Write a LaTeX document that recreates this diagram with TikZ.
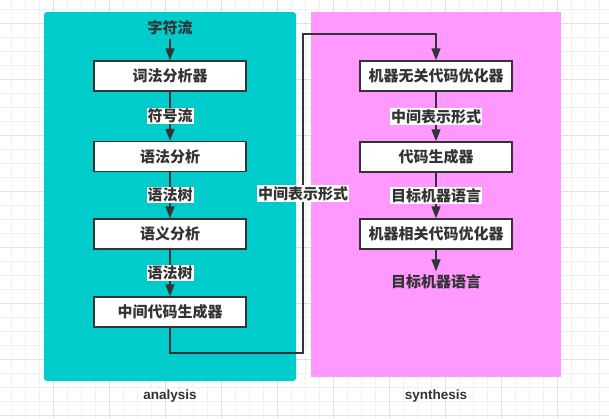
\documentclass[tikz,border=0pt]{standalone}
\usepackage{fontspec}
\newfontfamily\cjk{Noto Sans CJK SC}
\newfontfamily\latinsans{Liberation Sans}
\usetikzlibrary{arrows.meta}
\definecolor{panel-cyan}{HTML}{00CCCC}
\definecolor{panel-pink}{HTML}{FF99FF}
\definecolor{ink-gray}{HTML}{333333}
\definecolor{grid-minor}{HTML}{F0F0F0}
\definecolor{grid-major}{HTML}{E2E2E2}

\begin{document}
\begin{tikzpicture}[x=1pt, y=-1pt,
        every node/.style={font=\cjk\bfseries\fontsize{15}{17}\selectfont, text=ink-gray},
        stage/.style={draw=ink-gray, line width=1.5pt, fill=white,
          minimum width=152pt, minimum height=30pt, inner sep=0pt},
        flowtag/.style={fill=white, inner sep=1pt},
        flow/.style={draw=ink-gray, line width=1.6pt, -{Triangle[length=12pt, width=9pt]}}]
      \useasboundingbox (0,0) rectangle (609,418);
      % grid
      \foreach \gx in {0,...,42}
        \draw[grid-minor, line width=0.8pt] (11.3+14*\gx,0) -- (11.3+14*\gx,418);
      \foreach \gy in {0,...,29}
        \draw[grid-minor, line width=0.8pt] (0,9.3+14*\gy) -- (609,9.3+14*\gy);
      \foreach \gx in {0,...,9}
        \draw[grid-major, line width=0.8pt] (53.3+56*\gx,0) -- (53.3+56*\gx,418);
      \foreach \gy in {0,...,7}
        \draw[grid-major, line width=0.8pt] (0,23.3+56*\gy) -- (609,23.3+56*\gy);
      % panels
      \fill[panel-cyan, rounded corners=3pt] (44,12) rectangle (296,381);
      \fill[panel-pink] (311,12) rectangle (561,377);
      \node[font=\latinsans\bfseries\fontsize{13.5}{15}\selectfont] (analysis) at (170,396) {analysis};
      \node[font=\latinsans\bfseries\fontsize{13.5}{15}\selectfont] (synthesis) at (436,396) {synthesis};
      % analysis
      \node (chars) at (170,28) {字符流};
      \node[stage] (lex) at (170,76) {词法分析器};
      \node[stage] (parse) at (170,156.5) {语法分析};
      \node[stage] (sema) at (170,234) {语义分析};
      \node[stage] (icg) at (170,312) {中间代码生成器};
      \draw[flow] (chars) -- (lex);
      \draw[flow] (lex) -- node[flowtag] {符号流} (parse);
      \draw[flow] (parse) -- node[flowtag] {语法树} (sema);
      \draw[flow] (sema) -- node[flowtag] {语法树} (icg);
      % synthesis
      \node[stage] (indep) at (436,76) {机器无关代码优化器};
      \node[stage] (codegen) at (436,157) {代码生成器};
      \node[stage] (dep) at (436,234) {机器相关代码优化器};
      \node (target) at (436,282) {目标机器语言};
      \draw[flow] (indep) -- node[flowtag] {中间表示形式} (codegen);
      \draw[flow] (codegen) -- node[flowtag] {目标机器语言} (dep);
      \draw[flow] (dep) -- (target);
      % link between panels
      \coordinate (lowturn) at (303,353);
      \coordinate (highturn) at (303,34);
      \draw[flow] (icg.south) |- (lowturn) -- node[flowtag] {中间表示形式} (highturn) -| (indep.north);
    \end{tikzpicture}
\end{document}
